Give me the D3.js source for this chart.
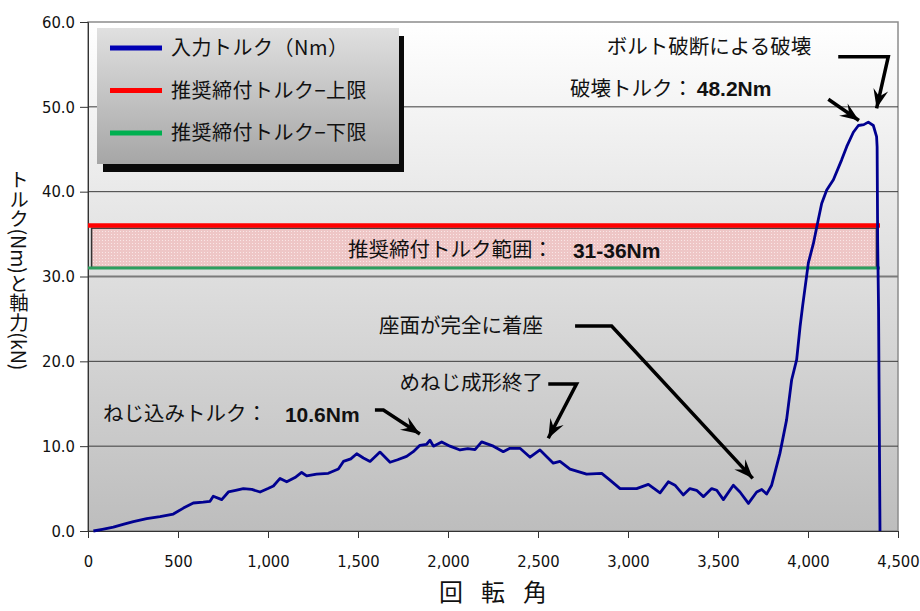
<!DOCTYPE html>
<html>
<head>
<meta charset="utf-8">
<script src="https://cdn.jsdelivr.net/npm/d3@7"></script>
<style>
  body { margin: 0; background: #fff; }
  svg text { font-family: "Noto Sans CJK JP", "DejaVu Sans", sans-serif; fill: #111; }
  .tick text { font-family: "DejaVu Sans Condensed", "DejaVu Sans", sans-serif; font-size: 16.5px; }
</style>
</head>
<body>
<svg id="chart" width="920" height="611"></svg>
<script>
// rotation angle (deg) vs input torque (Nm)
var angle = [
  30, 80, 141, 200, 252, 326, 400, 474, 530, 585,
  640, 678, 696, 743, 780, 820, 863, 910, 956, 1000,
  1030, 1067, 1104, 1150, 1187, 1215, 1270, 1335, 1391, 1419,
  1460, 1493, 1530, 1567, 1622, 1678, 1720, 1770, 1807, 1844,
  1880, 1900, 1919, 1965, 2011, 2067, 2110, 2150, 2187, 2252,
  2307, 2344, 2400, 2456, 2511, 2585, 2622, 2678, 2770, 2854,
  2900, 2956, 3048, 3113, 3178, 3224, 3261, 3307, 3344, 3381,
  3419, 3465, 3493, 3530, 3585, 3622, 3669, 3715, 3743, 3770,
  3798, 3844, 3881, 3909, 3937, 3956, 3970, 4002, 4030, 4057,
  4076, 4104, 4141, 4187, 4215, 4252, 4280, 4310, 4335, 4363, 4381, 4384, 4387, 4392, 4400
];
var torque = [
  0, 0.2, 0.45, 0.8, 1.1, 1.45, 1.7, 2.0, 2.7, 3.3,
  3.4, 3.5, 4.1, 3.7, 4.6, 4.8, 5.0, 4.9, 4.6, 5.0,
  5.3, 6.2, 5.8, 6.3, 6.9, 6.5, 6.7, 6.8, 7.3, 8.2,
  8.5, 9.1, 8.6, 8.2, 9.3, 8.1, 8.4, 8.8, 9.35, 10.1,
  10.2, 10.7, 10.0, 10.5, 10.0, 9.55, 9.7, 9.6, 10.5, 10.0,
  9.35, 9.75, 9.75, 8.7, 9.55, 8.0, 8.2, 7.3, 6.7, 6.8,
  6.0, 5.0, 5.0, 5.5, 4.5, 5.8, 5.4, 4.25, 5.0, 4.8,
  4.05, 5.0, 4.8, 3.7, 5.4, 4.6, 3.25, 4.6, 4.9, 4.35,
  5.4, 9.15, 13.1, 17.8, 20.2, 24.1, 26.5, 31.6, 33.9, 36.7,
  38.6, 40.2, 41.4, 43.75, 45.3, 47.0, 47.8, 47.9, 48.2, 47.8, 46.5, 45.3, 34.3, 26.1, 0
];

var seriesNames = ['入力トルク（Nm）', '推奨締付トルク−上限', '推奨締付トルク−下限'];
var seriesColors = ['#0000b4', '#ff0000', '#00b050'];
var limitValues = [36, 31];
var limitRange = [0, 4400];
var bandRange = [20, 4380];
var bandValues = [31.05, 35.7];

var xTicks = [0, 500, 1000, 1500, 2000, 2500, 3000, 3500, 4000, 4500];
var yTicks = [0, 10, 20, 30, 40, 50, 60];

// annotation arrows in data units [angle, torque]
var arrows = [
  [[1594, 14.26], [1641, 14.26], [1844, 11.43]],
  [[2557, 17.33], [2714, 17.33], [2557, 10.93]],
  [[2706, 24.17], [2909, 24.17], [3693, 6.21]],
  [[4168, 55.91], [4446, 55.91], [4381, 49.83]],
  [[4113, 50.89], [4283, 48.39]]
];
var notes = [
  {t: 'ねじ込みトルク：', x: 83, y: 13.79, a: 'start', w: 'normal'},
  {t: '10.6Nm', x: 1094, y: 13.79, a: 'start', w: 'bold'},
  {t: 'めねじ成形終了', x: 2528, y: 17.45, a: 'end', w: 'normal'},
  {t: '座面が完全に着座', x: 2528, y: 24.17, a: 'end', w: 'normal'},
  {t: 'ボルト破断による破壊', x: 2882, y: 57.09, a: 'start', w: 'normal'},
  {t: '破壊トルク：', x: 2678, y: 52.19, a: 'start', w: 'normal'},
  {t: '48.2Nm', x: 3382, y: 52.19, a: 'start', w: 'bold'},
  {t: '推奨締付トルク範囲：', x: 1444, y: 33.13, a: 'start', w: 'normal'},
  {t: '31-36Nm', x: 2694, y: 33.13, a: 'start', w: 'bold'}
];

var svg = d3.select('#chart');
var x = d3.scaleLinear().domain([0, 4500]).range([88, 898]);
var y = d3.scaleLinear().domain([0, 60]).range([531, 22]);

var defs = svg.append('defs');
var bg = defs.append('linearGradient').attr('id', 'plotbg')
  .attr('x1', 0).attr('y1', 0).attr('x2', 0).attr('y2', 1);
bg.append('stop').attr('offset', '0%').attr('stop-color', '#ffffff');
bg.append('stop').attr('offset', '100%').attr('stop-color', '#bdbdbd');

var lg = defs.append('linearGradient').attr('id', 'legbg')
  .attr('x1', 0).attr('y1', 0).attr('x2', 0).attr('y2', 1);
lg.append('stop').attr('offset', '0%').attr('stop-color', '#e0e0e0');
lg.append('stop').attr('offset', '100%').attr('stop-color', '#a6a6a6');

var pat = defs.append('pattern').attr('id', 'dots')
  .attr('width', 3).attr('height', 3).attr('patternUnits', 'userSpaceOnUse');
pat.append('rect').attr('width', 3).attr('height', 3).attr('fill', '#eec6c6');
pat.append('rect').attr('width', 1).attr('height', 1).attr('fill', '#f9e6e6');

defs.append('marker').attr('id', 'head')
  .attr('viewBox', '-20 -8 22 16').attr('refX', 0).attr('refY', 0)
  .attr('markerUnits', 'userSpaceOnUse')
  .attr('markerWidth', 22).attr('markerHeight', 16).attr('orient', 'auto')
  .append('path').attr('d', 'M0,0 L-19,-7.5 L-12,0 L-19,7.5 Z').attr('fill', '#000');

// plot area
svg.append('rect')
  .attr('x', x(0)).attr('y', y(60))
  .attr('width', x(4500) - x(0)).attr('height', y(0) - y(60))
  .attr('fill', 'url(#plotbg)').attr('stroke', '#8c8c8c').attr('stroke-width', 1.5);

// gridlines
svg.append('g').selectAll('line').data(yTicks.slice(1, -1)).join('line')
  .attr('x1', x(0)).attr('x2', x(4500))
  .attr('y1', function(d){ return y(d); }).attr('y2', function(d){ return y(d); })
  .attr('stroke', function(d){ return d === 30 ? '#7a7a7a' : '#3c3c3c'; })
  .attr('stroke-width', function(d){ return d === 30 ? 2 : 1; });

// axes
svg.append('g').attr('transform', 'translate(0,' + y(0) + ')')
  .call(d3.axisBottom(x).tickValues(xTicks).tickSize(7).tickPadding(17)
    .tickFormat(d3.format(',')))
  .call(function(g){ g.selectAll('line,path').attr('stroke', '#333'); });

svg.append('g').attr('transform', 'translate(' + x(0) + ',0)')
  .call(d3.axisLeft(y).tickValues(yTicks).tickSize(8).tickPadding(5)
    .tickFormat(d3.format('.1f')))
  .call(function(g){ g.selectAll('line,path').attr('stroke', '#333'); });

// recommended band
svg.append('rect')
  .attr('x', x(bandRange[0])).attr('y', y(bandValues[1]))
  .attr('width', x(bandRange[1]) - x(bandRange[0]))
  .attr('height', y(bandValues[0]) - y(bandValues[1]))
  .attr('fill', 'url(#dots)').attr('stroke', '#333').attr('stroke-width', 1.5);

// limit lines
svg.append('g').selectAll('line').data(limitValues).join('line')
  .attr('x1', x(limitRange[0])).attr('x2', x(limitRange[1]))
  .attr('y1', function(d){ return y(d); }).attr('y2', function(d){ return y(d); })
  .attr('stroke', function(d, i){ return i === 0 ? '#ff0000' : '#2e9e5e'; })
  .attr('stroke-width', function(d, i){ return i === 0 ? 4.5 : 3; });

// torque curve
var line = d3.line()
  .x(function(d, i){ return x(angle[i]); })
  .y(function(d){ return y(d); });
svg.append('path').datum(torque)
  .attr('d', line)
  .attr('fill', 'none').attr('stroke', '#000090').attr('stroke-width', 2.8)
  .attr('stroke-linejoin', 'round');

// legend
var leg = svg.append('g');
leg.append('rect').attr('x', 103).attr('y', 36).attr('width', 301).attr('height', 136).attr('fill', '#0a0a0a');
leg.append('rect').attr('x', 97).attr('y', 28).attr('width', 302).attr('height', 136).attr('fill', 'url(#legbg)');
var items = leg.selectAll('g.item').data(seriesNames).join('g')
  .attr('transform', function(d, i){ return 'translate(0,' + (48 + i * 42.5) + ')'; });
items.append('line').attr('x1', 110).attr('x2', 162)
  .attr('stroke', function(d, i){ return seriesColors[i]; }).attr('stroke-width', 5);
items.append('text').attr('x', 171).attr('dy', '0.36em')
  .style('font-size', '20px').style('letter-spacing', '0.5px').text(function(d){ return d; });

// annotations
svg.append('g').selectAll('path').data(arrows).join('path')
  .attr('d', d3.line().x(function(d){ return x(d[0]); }).y(function(d){ return y(d[1]); }))
  .attr('fill', 'none').attr('stroke', '#000').attr('stroke-width', 3.5)
  .attr('marker-end', 'url(#head)');

svg.append('g').selectAll('text').data(notes).join('text')
  .attr('x', function(d){ return x(d.x); })
  .attr('y', function(d){ return y(d.y); })
  .attr('dy', '0.36em')
  .attr('text-anchor', function(d){ return d.a; })
  .style('font-size', function(d){ return d.w === 'bold' ? '21px' : '20.5px'; })
  .style('font-weight', function(d){ return d.w; })
  .style('font-family', function(d){ return d.w === 'bold' ? '"Liberation Sans", Arial, sans-serif' : null; })
  .text(function(d){ return d.t; });

// axis titles
svg.append('text').attr('x', (x(0) + x(4500)) / 2 + 9).attr('y', 601)
  .attr('text-anchor', 'middle').style('font-size', '24px').style('letter-spacing', '18px')
  .text('回転角');

svg.append('text').attr('x', 19).attr('y', 170)
  .style('writing-mode', 'vertical-rl').style('font-size', '19.5px')
  .text('トルク(Nm)と軸力(kN)');
</script>
</body>
</html>
